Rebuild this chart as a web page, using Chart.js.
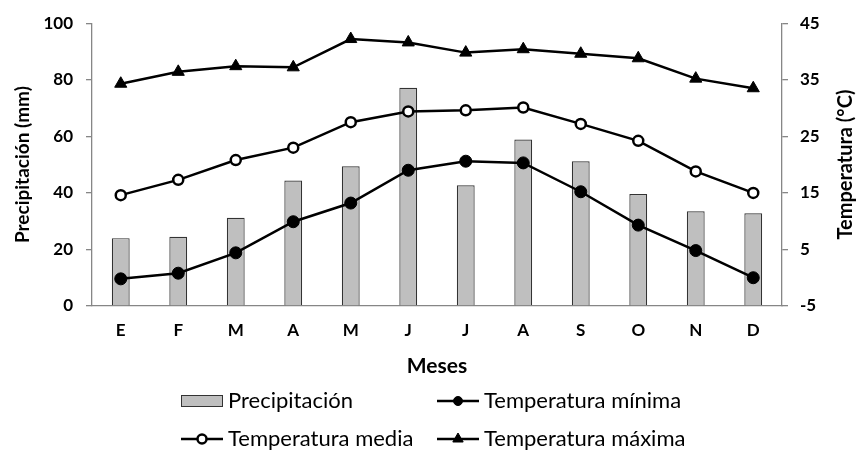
<!DOCTYPE html>
<html>
<head>
<meta charset="utf-8">
<script src="https://cdn.jsdelivr.net/npm/chart.js@4/dist/chart.umd.min.js"></script>
<style>
  html, body { margin: 0; padding: 0; background: #fff; }
  #wrap { width: 858px; height: 452px; }
</style>
</head>
<body>
<div id="wrap"><canvas id="c" width="858" height="452"></canvas></div>
<script>
// Meses del año (iniciales)
const meses = ['E', 'F', 'M', 'A', 'M', 'J', 'J', 'A', 'S', 'O', 'N', 'D'];

// Precipitación mensual (mm)
const precipitacion = [24.0, 24.5, 31.2, 44.4, 49.4, 77.2, 42.7, 58.9, 51.2, 39.6, 33.5, 32.8];

// Temperaturas mensuales (°C)
const tempMinima = [-0.2, 0.8, 4.4, 9.9, 13.2, 19.0, 20.6, 20.3, 15.2, 9.3, 4.8, 0.0];
const tempMedia  = [14.6, 17.3, 20.8, 23.0, 27.5, 29.4, 29.6, 30.1, 27.2, 24.2, 18.8, 15.0];
const tempMaxima = [34.3, 36.4, 37.4, 37.2, 42.2, 41.6, 39.8, 40.4, 39.6, 38.8, 35.2, 33.5];

// Ejes
const precipTicks = { min: 0, max: 100, step: 20 };
const tempTicks = { min: -5, max: 45, step: 10 };
const tituloTemp = 'Temperatura (°C)';

const FONT = 'Lato, "Open Sans", sans-serif';
const AXIS_GREY = '#868686';

// Título del eje derecho, leído de abajo hacia arriba
const rightTitle = {
  id: 'rightTitle',
  afterDraw(chart) {
    const ctx = chart.ctx;
    const a = chart.chartArea;
    ctx.save();
    ctx.translate(846, (a.top + a.bottom) / 2);
    ctx.rotate(-Math.PI / 2);
    ctx.font = 'bold 20px ' + FONT;
    ctx.fillStyle = '#000';
    ctx.textAlign = 'center';
    ctx.textBaseline = 'middle';
    ctx.fillText(tituloTemp, 0, 0);
    ctx.restore();
  }
};

// Leyenda en cuadrícula de 2 columnas dibujada sobre el lienzo
const gridLegend = {
  id: 'gridLegend',
  afterDraw(chart) {
    const ctx = chart.ctx;
    const ds = chart.data.datasets;
    const order = [0, 1, 2, 3]; // Precipitación, mínima, media, máxima
    const colX = [181, 437];
    const rowY = [401, 439];
    const symW = 42;
    ctx.save();
    ctx.font = '22px ' + FONT;
    ctx.textBaseline = 'middle';
    ctx.textAlign = 'left';
    order.forEach((di, k) => {
      const d = ds[di];
      const x = colX[k % 2];
      const y = rowY[Math.floor(k / 2)];
      if (d.type === 'bar') {
        ctx.fillStyle = d.backgroundColor;
        ctx.strokeStyle = d.borderColor;
        ctx.lineWidth = 1;
        ctx.fillRect(x, y - 6, symW, 12);
        ctx.strokeRect(x + 0.5, y - 5.5, symW - 1, 11);
      } else {
        ctx.strokeStyle = d.borderColor;
        ctx.lineWidth = d.borderWidth;
        ctx.beginPath();
        ctx.moveTo(x, y);
        ctx.lineTo(x + symW, y);
        ctx.stroke();
        ctx.fillStyle = d.pointBackgroundColor;
        ctx.strokeStyle = d.pointBorderColor;
        ctx.lineWidth = d.pointBorderWidth;
        Chart.helpers.drawPoint(ctx, {
          pointStyle: d.pointStyle,
          radius: d.pointStyle === 'triangle' ? 6 : 4.5,
          borderWidth: d.pointBorderWidth,
          rotation: 0
        }, x + symW / 2, y);
      }
      ctx.fillStyle = '#000';
      ctx.fillText(d.label, x + symW + 5, y);
    });
    ctx.restore();
  }
};

new Chart(document.getElementById('c'), {
  data: {
    labels: meses,
    datasets: [
      {
        type: 'bar',
        label: 'Precipitación',
        data: precipitacion,
        yAxisID: 'y',
        backgroundColor: '#bfbfbf',
        borderColor: '#333333',
        borderWidth: 1.2,
        barPercentage: 0.31,
        categoryPercentage: 1,
        order: 4
      },
      {
        type: 'line',
        label: 'Temperatura mínima',
        data: tempMinima,
        yAxisID: 'y1',
        borderColor: '#000',
        borderWidth: 2.5,
        pointStyle: 'circle',
        pointRadius: 6,
        pointBackgroundColor: '#000',
        pointBorderColor: '#000',
        pointBorderWidth: 1,
        tension: 0,
        order: 1
      },
      {
        type: 'line',
        label: 'Temperatura media',
        data: tempMedia,
        yAxisID: 'y1',
        borderColor: '#000',
        borderWidth: 2.5,
        pointStyle: 'circle',
        pointRadius: 5,
        pointBackgroundColor: '#fff',
        pointBorderColor: '#000',
        pointBorderWidth: 2.5,
        tension: 0,
        order: 2
      },
      {
        type: 'line',
        label: 'Temperatura máxima',
        data: tempMaxima,
        yAxisID: 'y1',
        borderColor: '#000',
        borderWidth: 2.5,
        pointStyle: 'triangle',
        pointRadius: 7,
        pointBackgroundColor: '#000',
        pointBorderColor: '#000',
        pointBorderWidth: 1,
        tension: 0,
        order: 3
      }
    ]
  },
  options: {
    responsive: false,
    animation: false,
    devicePixelRatio: 1,
    layout: { padding: { top: 20, bottom: 72, left: 0, right: 0 } },
    plugins: {
      legend: { display: false },
      tooltip: { enabled: false }
    },
    scales: {
      x: {
        type: 'category',
        offset: true,
        grid: { drawOnChartArea: false, drawTicks: false },
        border: { color: AXIS_GREY, width: 1.3 },
        ticks: { color: '#000', font: { family: FONT, size: 17, weight: 'bold' }, padding: 14, maxRotation: 0 },
        title: { display: true, text: 'Meses', color: '#000', font: { family: FONT, size: 21, weight: 'bold' }, padding: { top: 0, bottom: 1 } },
        afterFit(s) { s.height = 74; }
      },
      y: {
        position: 'left',
        min: precipTicks.min,
        max: precipTicks.max,
        grid: { drawOnChartArea: false, drawTicks: true, tickLength: 6, color: AXIS_GREY, lineWidth: 1.3 },
        border: { color: AXIS_GREY, width: 1.3 },
        ticks: { stepSize: precipTicks.step, color: '#000', font: { family: FONT, size: 17, weight: 'bold' }, padding: 13 },
        title: { display: true, text: 'Precipitación (mm)', color: '#000', font: { family: FONT, size: 19, weight: 'bold' }, padding: { top: 11, bottom: 0 } },
        afterFit(s) { s.width = 92; }
      },
      y1: {
        position: 'right',
        min: tempTicks.min,
        max: tempTicks.max,
        grid: { drawOnChartArea: false, drawTicks: true, tickLength: 6, color: AXIS_GREY, lineWidth: 1.3 },
        border: { color: AXIS_GREY, width: 1.3 },
        ticks: { stepSize: tempTicks.step, color: '#000', font: { family: FONT, size: 17, weight: 'bold' }, padding: 12 },
        title: { display: false },
        afterFit(s) { s.width = 76; }
      }
    }
  },
  plugins: [gridLegend, rightTitle]
});
</script>
</body>
</html>
